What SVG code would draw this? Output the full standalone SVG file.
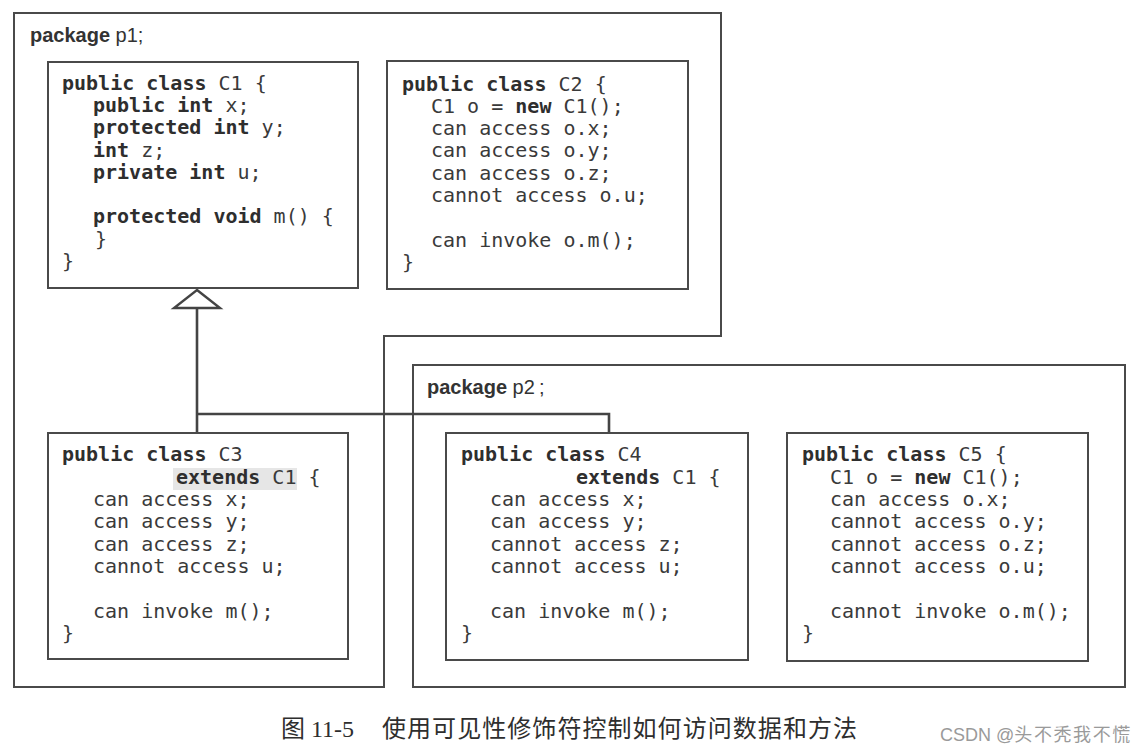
<svg xmlns="http://www.w3.org/2000/svg" width="1142" height="752" viewBox="0 0 1142 752">
<style>
.pkg{fill:none;stroke:#4a4a4a;stroke-width:2}
.box{fill:#fff;stroke:#4a4a4a;stroke-width:2}
.code{font-family:"DejaVu Sans Mono","Liberation Mono",monospace;font-size:20px;fill:#3a3a3a}
.b{font-weight:bold;fill:#2e2e2e}
.plabel{font-family:"Liberation Sans","Noto Sans",sans-serif;font-size:20px;fill:#333}
.conn{fill:none;stroke:#444;stroke-width:2.6}
.cap{font-family:"Liberation Serif","Noto Sans CJK SC",serif;font-size:24px;fill:#2e2e2e}
.wm{font-family:"Liberation Sans","Noto Sans CJK SC",sans-serif;font-size:18px;fill:#9a9a9a}
</style>
<rect width="1142" height="752" fill="#fff"/>

<g id="package-p1">
<polygon class="pkg" points="14,13 721,13 721,336 384,336 384,687 14,687"/>
<text class="plabel" x="30" y="42"><tspan font-weight="bold">package</tspan> p1;</text>
</g>

<g id="package-p2">
<rect class="pkg" x="413" y="365" width="712" height="322"/>
<text class="plabel" x="427" y="394"><tspan font-weight="bold">package</tspan> p2<tspan dx="4">;</tspan></text>
</g>

<g id="connectors">
<polyline class="conn" points="609,433 609,414 197,414"/>
<line class="conn" x1="197" y1="433" x2="197" y2="308"/>
<polygon points="197,290 220,308 174,308" fill="#fff" stroke="#444" stroke-width="2.4" stroke-linejoin="miter"/>
</g>

<g id="C1">
<rect class="box" x="48" y="62" width="310" height="226"/>
<text class="code">
<tspan x="62" y="90"><tspan class="b">public class</tspan> C1 {</tspan>
<tspan x="93" y="112"><tspan class="b">public int</tspan> x;</tspan>
<tspan x="93" y="134"><tspan class="b">protected int</tspan> y;</tspan>
<tspan x="93" y="157"><tspan class="b">int</tspan> z;</tspan>
<tspan x="93" y="179"><tspan class="b">private int</tspan> u;</tspan>
<tspan x="93" y="223"><tspan class="b">protected void</tspan> m() {</tspan>
<tspan x="95" y="246">}</tspan>
<tspan x="62" y="268">}</tspan>
</text>
</g>

<g id="C2">
<rect class="box" x="387" y="61" width="301" height="228"/>
<text class="code">
<tspan x="402" y="91"><tspan class="b">public class</tspan> C2 {</tspan>
<tspan x="431" y="113">C1 o = <tspan class="b">new</tspan> C1();</tspan>
<tspan x="431" y="135">can access o.x;</tspan>
<tspan x="431" y="157">can access o.y;</tspan>
<tspan x="431" y="180">can access o.z;</tspan>
<tspan x="431" y="202">cannot access o.u;</tspan>
<tspan x="431" y="247">can invoke o.m();</tspan>
<tspan x="402" y="269">}</tspan>
</text>
</g>

<g id="C3">
<rect class="box" x="48" y="433" width="300" height="226"/>
<rect x="173" y="468" width="124" height="22" fill="#e6e6e6"/>
<text class="code">
<tspan x="62" y="461"><tspan class="b">public class</tspan> C3</tspan>
<tspan x="176" y="484"><tspan class="b">extends</tspan> C1 {</tspan>
<tspan x="93" y="506">can access x;</tspan>
<tspan x="93" y="528">can access y;</tspan>
<tspan x="93" y="551">can access z;</tspan>
<tspan x="93" y="573">cannot access u;</tspan>
<tspan x="93" y="618">can invoke m();</tspan>
<tspan x="62" y="640">}</tspan>
</text>
</g>

<g id="C4">
<rect class="box" x="446" y="433" width="302" height="227"/>
<text class="code">
<tspan x="461" y="461"><tspan class="b">public class</tspan> C4</tspan>
<tspan x="576" y="484"><tspan class="b">extends</tspan> C1 {</tspan>
<tspan x="490" y="506">can access x;</tspan>
<tspan x="490" y="528">can access y;</tspan>
<tspan x="490" y="551">cannot access z;</tspan>
<tspan x="490" y="573">cannot access u;</tspan>
<tspan x="490" y="618">can invoke m();</tspan>
<tspan x="461" y="640">}</tspan>
</text>
</g>

<g id="C5">
<rect class="box" x="787" y="433" width="301" height="228"/>
<text class="code">
<tspan x="802" y="461"><tspan class="b">public class</tspan> C5 {</tspan>
<tspan x="830" y="484">C1 o = <tspan class="b">new</tspan> C1();</tspan>
<tspan x="830" y="506">can access o.x;</tspan>
<tspan x="830" y="528">cannot access o.y;</tspan>
<tspan x="830" y="551">cannot access o.z;</tspan>
<tspan x="830" y="573">cannot access o.u;</tspan>
<tspan x="830" y="618">cannot invoke o.m();</tspan>
<tspan x="802" y="640">}</tspan>
</text>
</g>

<g id="caption">
<text class="cap" x="281" y="737">图 11-5</text>
<text class="cap" x="382" y="737" textLength="475" lengthAdjust="spacing">使用可见性修饰符控制如何访问数据和方法</text>
<text class="wm" x="940" y="741">CSDN @<tspan textLength="116" lengthAdjust="spacing">头不秃我不慌</tspan></text>
</g>
</svg>
